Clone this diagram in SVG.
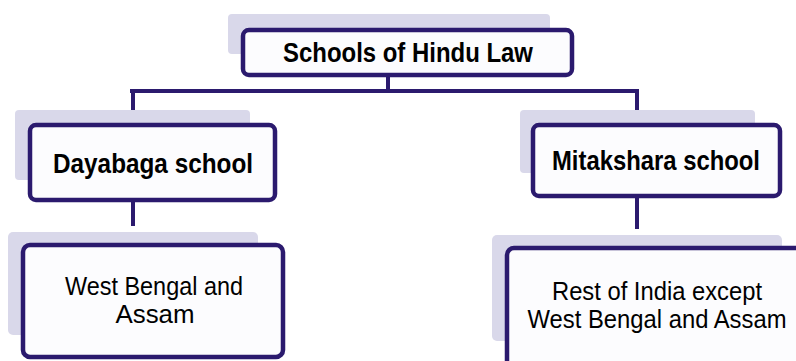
<svg xmlns="http://www.w3.org/2000/svg" width="796" height="361" viewBox="0 0 796 361">
<style>
.shadow{fill:#d9d8ea;}
.box{fill:#fcfcfe;stroke:#2b1a6e;stroke-width:4.5;}
.conn{stroke:#2b1a6e;stroke-width:4;fill:none;}
.b{font-family:"Liberation Sans",Arial,sans-serif;font-weight:bold;font-size:28px;fill:#000;text-anchor:middle;}
.r{font-family:"Liberation Sans",Arial,sans-serif;font-size:25px;fill:#000;text-anchor:middle;}
</style>
<rect width="796" height="361" fill="#ffffff"/>
<g id="connectors">
<path class="conn" d="M388,75 V91 M130,91 H639 M133,91 V125 M637,91 V125 M133,200 V226 M637,196 V229"/>
</g>
<g id="node-root">
<rect class="shadow" x="228" y="14" width="322" height="40" rx="4"/>
<rect class="box" x="243" y="30" width="329" height="45" rx="6"/>
<text class="b" x="408" y="62" textLength="250" lengthAdjust="spacingAndGlyphs">Schools of Hindu Law</text>
</g>
<g id="node-dayabaga">
<rect class="shadow" x="15" y="110" width="235" height="70" rx="4"/>
<rect class="box" x="30" y="125" width="245" height="75" rx="6"/>
<text class="b" x="153" y="173" textLength="200" lengthAdjust="spacingAndGlyphs">Dayabaga school</text>
</g>
<g id="node-mitakshara">
<rect class="shadow" x="520" y="110" width="235" height="63" rx="4"/>
<rect class="box" x="533" y="125" width="247" height="71" rx="6"/>
<text class="b" x="656" y="170" textLength="208" lengthAdjust="spacingAndGlyphs">Mitakshara school</text>
</g>
<g id="node-west-bengal">
<rect class="shadow" x="8" y="232" width="250" height="103" rx="5"/>
<rect class="box" x="23" y="245" width="260" height="112" rx="7"/>
<text class="r" x="154" y="295" textLength="178" lengthAdjust="spacingAndGlyphs">West Bengal and</text>
<text class="r" x="155" y="323" textLength="79" lengthAdjust="spacingAndGlyphs">Assam</text>
</g>
<g id="node-rest-of-india">
<rect class="shadow" x="492" y="235" width="290" height="106" rx="5"/>
<rect class="box" x="507" y="248" width="305" height="120" rx="7"/>
<text class="r" x="657" y="300" textLength="210" lengthAdjust="spacingAndGlyphs">Rest of India except</text>
<text class="r" x="657" y="328" textLength="259" lengthAdjust="spacingAndGlyphs">West Bengal and Assam</text>
</g>
</svg>
